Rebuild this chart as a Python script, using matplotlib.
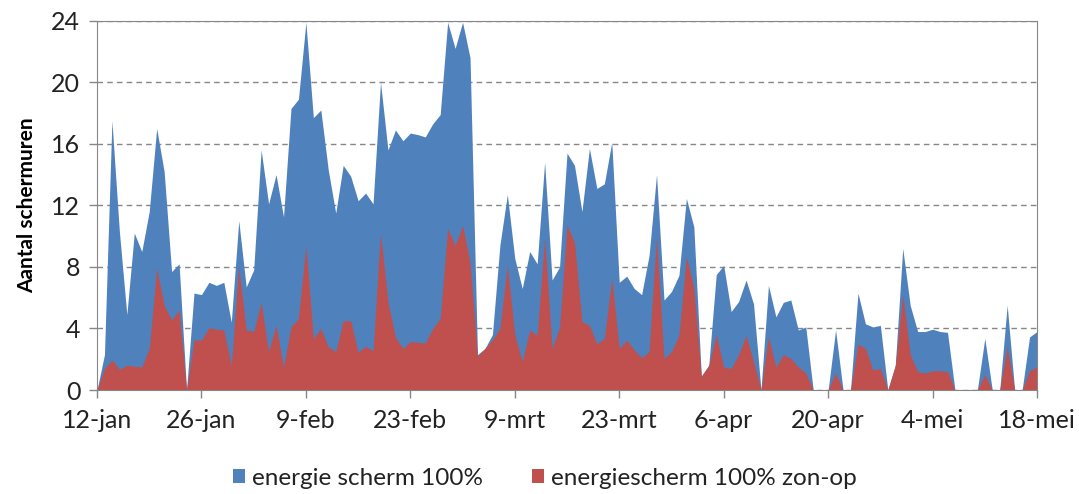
import numpy as np
import matplotlib
matplotlib.use('Agg')
import matplotlib.pyplot as plt

plt.rcParams['font.family'] = ['Lato', 'DejaVu Sans']

# dagelijkse waarden vanaf 12-jan (dag 0) t/m 18-mei (dag 126)
scherm = [0, 2.3, 17.5, 10.3, 4.9, 10.2, 9.0, 11.6, 17.0, 14.2,
          7.7, 8.2, 0, 6.3, 6.2, 7.0, 6.8, 7.0, 4.4, 11.0,
          6.7, 7.8, 15.6, 12.1, 14.0, 11.25, 18.3, 18.9, 23.9, 17.7,
          18.2, 14.3, 11.5, 14.6, 13.9, 12.3, 12.8, 12.1, 20.0, 15.6,
          16.9, 16.2, 16.7, 16.6, 16.45, 17.3, 17.9, 23.9, 22.2, 23.9,
          21.6, 2.3, 2.7, 3.6, 9.4, 12.7, 8.55, 6.6, 9.0, 8.2,
          14.8, 7.15, 8.0, 15.4, 14.6, 11.6, 15.7, 13.1, 13.4, 16.1,
          7.0, 7.4, 6.6, 6.2, 8.75, 14.0, 5.85, 6.4, 7.45, 12.45,
          10.6, 0.9, 1.6, 7.5, 8.1, 5.1, 5.75, 7.15, 5.6, 0,
          6.8, 4.75, 5.7, 5.85, 3.9, 4.1, 0, 0, 0, 3.9,
          0, 0, 6.3, 4.3, 4.1, 4.2, 0, 1.6, 9.2, 5.5,
          3.8, 3.8, 3.95, 3.8, 3.75, 0, 0, 0, 0, 3.35,
          0, 0, 5.5, 0, 0, 3.45, 3.8]
zon_op = [0, 1.4, 1.95, 1.35, 1.6, 1.55, 1.5, 2.7, 7.9, 5.5,
          4.55, 5.2, 0, 3.25, 3.25, 4.05, 3.95, 3.9, 1.6, 8.0,
          3.9, 3.8, 5.7, 2.5, 4.2, 1.5, 4.1, 4.65, 9.4, 3.35,
          4.0, 2.8, 2.5, 4.5, 4.5, 2.45, 2.85, 2.55, 10.2, 5.7,
          3.45, 2.7, 3.15, 3.1, 3.05, 4.0, 4.65, 10.5, 9.4, 10.7,
          8.3, 2.2, 2.7, 3.25, 4.0, 8.1, 3.6, 1.85, 3.9, 3.55,
          9.85, 2.7, 4.1, 10.7, 9.6, 4.45, 4.2, 3.0, 3.35, 7.25,
          2.7, 3.25, 2.6, 2.1, 2.5, 9.95, 2.05, 2.5, 3.55, 8.7,
          6.6, 0.9, 1.6, 3.6, 1.5, 1.4, 2.3, 3.55, 1.85, 0,
          3.45, 1.5, 2.3, 2.05, 1.5, 1.1, 0, 0, 0, 1.1,
          0, 0, 3.0, 2.7, 1.3, 1.4, 0, 1.6, 6.2, 2.3,
          1.2, 1.1, 1.25, 1.25, 1.2, 0, 0, 0, 0, 1.0,
          0, 0, 2.8, 0, 0, 1.25, 1.5]
tick_labels = ['12-jan', '26-jan', '9-feb', '23-feb', '9-mrt',
               '23-mrt', '6-apr', '20-apr', '4-mei', '18-mei']

dagen = np.arange(len(scherm))
blauw = '#4F81BD'
rood = '#C0504D'
grijs = '#868686'

fig = plt.figure(figsize=(10.79, 4.94), dpi=100)
ax = fig.add_axes([0.0899, 0.2105, 0.8712, 0.7475])

ax.fill_between(dagen, scherm, color=blauw, linewidth=0, label='energie scherm 100%')
ax.fill_between(dagen, zon_op, color=rood, linewidth=0, label='energiescherm 100% zon-op')

ax.set_xlim(0, len(scherm) - 1)
ax.set_ylim(0, 24)
ax.set_yticks(range(0, 25, 4))
ax.set_xticks(np.arange(0, len(scherm), 14))
ax.set_xticklabels(tick_labels)
ax.tick_params(labelsize=18, color=grijs, length=6, width=1, labelcolor='#222222')
ax.tick_params(axis='x', pad=8)
ax.tick_params(axis='y', pad=6)

ax.set_axisbelow(True)
ax.yaxis.grid(True, linestyle=(0, (4, 3)), color=grijs, linewidth=1)
for s in ax.spines.values():
    s.set_color(grijs)

ax.set_ylabel('Aantal schermuren', fontsize=15, fontweight='bold', labelpad=10)

fig.legend(loc='center', bbox_to_anchor=(0.505, 0.032), ncol=2, frameon=False,
           fontsize=17.5, handlelength=0.5, handleheight=0.5, handletextpad=0.3,
           columnspacing=2.0, labelcolor='#222222')

fig.savefig('out.png', dpi=100)
